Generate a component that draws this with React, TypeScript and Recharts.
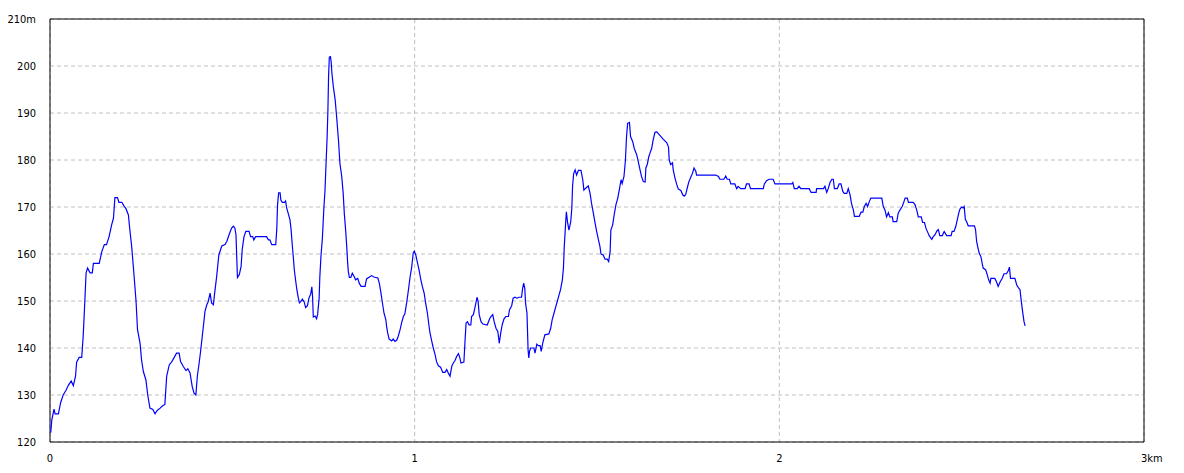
import { CartesianGrid, Line, LineChart, ReferenceArea, XAxis, YAxis } from 'recharts'

// distance along the route (km) and elevation (m)
const distKm = [
    0.002, 0.005, 0.011, 0.014, 0.023, 0.029, 0.036, 0.044, 0.05, 0.058, 0.064, 0.07, 0.073, 0.08, 0.087, 0.091, 0.094, 0.099, 0.103, 0.11,
    0.116, 0.119, 0.135, 0.142, 0.149, 0.155, 0.162, 0.169, 0.174, 0.178, 0.185, 0.189, 0.197, 0.203, 0.208, 0.215, 0.219, 0.224, 0.23, 0.236,
    0.24, 0.247, 0.251, 0.256, 0.263, 0.268, 0.274, 0.282, 0.288, 0.294, 0.302, 0.309, 0.315, 0.32, 0.327, 0.334, 0.34, 0.347, 0.354, 0.358,
    0.366, 0.373, 0.378, 0.384, 0.39, 0.395, 0.4, 0.404, 0.409, 0.413, 0.42, 0.425, 0.43, 0.434, 0.439, 0.443, 0.448, 0.452, 0.457, 0.463,
    0.471, 0.48, 0.485, 0.491, 0.498, 0.503, 0.507, 0.51, 0.514, 0.519, 0.524, 0.527, 0.532, 0.537, 0.546, 0.55, 0.556, 0.559, 0.564, 0.594,
    0.599, 0.603, 0.608, 0.619, 0.622, 0.624, 0.627, 0.631, 0.633, 0.637, 0.643, 0.646, 0.649, 0.653, 0.658, 0.661, 0.664, 0.667, 0.67, 0.674,
    0.677, 0.681, 0.684, 0.687, 0.692, 0.697, 0.701, 0.706, 0.71, 0.715, 0.718, 0.72, 0.722, 0.727, 0.731, 0.734, 0.738, 0.74, 0.743, 0.747,
    0.751, 0.754, 0.757, 0.76, 0.762, 0.764, 0.766, 0.769, 0.771, 0.773, 0.777, 0.782, 0.786, 0.791, 0.795, 0.8, 0.804, 0.807, 0.811, 0.814,
    0.816, 0.818, 0.821, 0.825, 0.829, 0.834, 0.838, 0.844, 0.848, 0.853, 0.864, 0.868, 0.876, 0.882, 0.888, 0.899, 0.903, 0.907, 0.911, 0.916,
    0.921, 0.923, 0.926, 0.93, 0.937, 0.941, 0.946, 0.951, 0.955, 0.96, 0.964, 0.969, 0.973, 0.978, 0.983, 0.987, 0.992, 0.996, 0.999, 1.003,
    1.007, 1.012, 1.017, 1.021, 1.026, 1.03, 1.035, 1.039, 1.042, 1.047, 1.051, 1.056, 1.06, 1.065, 1.071, 1.077, 1.083, 1.088, 1.092, 1.097,
    1.102, 1.106, 1.111, 1.115, 1.12, 1.124, 1.127, 1.135, 1.138, 1.141, 1.145, 1.149, 1.154, 1.156, 1.161, 1.165, 1.168, 1.171, 1.174, 1.177,
    1.182, 1.187, 1.199, 1.204, 1.208, 1.214, 1.218, 1.223, 1.228, 1.232, 1.236, 1.24, 1.245, 1.25, 1.257, 1.26, 1.266, 1.27, 1.275, 1.281,
    1.286, 1.293, 1.296, 1.299, 1.302, 1.304, 1.308, 1.311, 1.313, 1.315, 1.318, 1.327, 1.33, 1.335, 1.339, 1.344, 1.347, 1.351, 1.357, 1.368,
    1.373, 1.377, 1.382, 1.387, 1.391, 1.396, 1.4, 1.405, 1.408, 1.41, 1.414, 1.416, 1.419, 1.423, 1.428, 1.431, 1.433, 1.436, 1.44, 1.444,
    1.449, 1.456, 1.461, 1.464, 1.469, 1.476, 1.481, 1.485, 1.49, 1.494, 1.499, 1.504, 1.508, 1.511, 1.517, 1.522, 1.528, 1.532, 1.536, 1.538,
    1.543, 1.547, 1.552, 1.557, 1.561, 1.566, 1.569, 1.574, 1.578, 1.581, 1.584, 1.589, 1.592, 1.598, 1.602, 1.609, 1.613, 1.618, 1.622, 1.627,
    1.632, 1.634, 1.638, 1.642, 1.645, 1.65, 1.654, 1.659, 1.664, 1.673, 1.682, 1.691, 1.696, 1.698, 1.702, 1.707, 1.709, 1.714, 1.719, 1.723,
    1.73, 1.735, 1.739, 1.743, 1.748, 1.752, 1.758, 1.762, 1.766, 1.771, 1.773, 1.826, 1.833, 1.837, 1.848, 1.853, 1.857, 1.863, 1.867, 1.878,
    1.883, 1.887, 1.894, 1.906, 1.91, 1.917, 1.921, 1.956, 1.959, 1.965, 1.972, 1.983, 1.988, 2.034, 2.037, 2.041, 2.049, 2.054, 2.059, 2.082,
    2.087, 2.101, 2.102, 2.121, 2.125, 2.13, 2.134, 2.139, 2.144, 2.148, 2.151, 2.159, 2.164, 2.169, 2.174, 2.178, 2.185, 2.189, 2.194, 2.198,
    2.203, 2.206, 2.219, 2.224, 2.229, 2.233, 2.238, 2.242, 2.247, 2.251, 2.281, 2.285, 2.29, 2.294, 2.299, 2.303, 2.31, 2.312, 2.322, 2.326,
    2.331, 2.337, 2.342, 2.345, 2.351, 2.354, 2.367, 2.372, 2.377, 2.381, 2.389, 2.393, 2.398, 2.402, 2.407, 2.411, 2.418, 2.422, 2.427, 2.432,
    2.436, 2.44, 2.447, 2.452, 2.459, 2.471, 2.474, 2.479, 2.484, 2.488, 2.492, 2.495, 2.5, 2.504, 2.507, 2.51, 2.514, 2.518, 2.535, 2.538,
    2.541, 2.545, 2.548, 2.553, 2.556, 2.559, 2.566, 2.57, 2.574, 2.578, 2.58, 2.591, 2.596, 2.6, 2.605, 2.611, 2.616, 2.623, 2.628, 2.631,
    2.634, 2.646, 2.651, 2.655, 2.66, 2.663, 2.667, 2.671, 2.674,
]
const elevM = [
    122, 124.7, 127, 126, 126, 128.3, 130, 131, 132, 133, 132, 134, 137, 138, 138, 142.5, 147.4, 156, 157, 156,
    156, 158, 158, 160.5, 162, 162, 163.7, 166.2, 167.6, 172, 172, 171, 171, 170.2, 169.7, 168.3, 165.1, 161.6, 155.9, 149.9,
    143.9, 141, 137.5, 135, 133.2, 130, 127.2, 126.9, 126, 126.7, 127.2, 127.7, 128, 134, 136.4, 137.1, 137.9, 138.9, 138.9, 137.1,
    136, 135.2, 135.6, 134.7, 131.8, 130.4, 130, 134, 136.8, 139.3, 144.2, 147.8, 149.2, 149.9, 151.7, 149.6, 149.2, 152, 155.2, 159.8,
    161.7, 162, 162.7, 164.1, 165.5, 165.9, 165.5, 164.1, 155, 155.6, 157.3, 160.9, 163.7, 164.8, 164.8, 163.7, 163.7, 163, 163.7, 163.7,
    163, 163, 162, 162, 165.5, 170.5, 173, 173, 171.5, 171, 171, 171.3, 169.8, 168.7, 167.3, 165.3, 162.3, 159.5, 156.6, 154.1,
    152.4, 150.6, 149.6, 149.8, 150.4, 149.8, 148.6, 149, 150.6, 151.5, 153, 151, 146.6, 146.8, 146.2, 147.2, 150.6, 155.2, 159.5, 163.4,
    169.8, 173.3, 179.3, 185, 190.3, 198.1, 201.9, 202, 200.9, 198.5, 195.6, 192.8, 189.2, 184.3, 179.3, 176.5, 172.9, 168.7, 164.8, 161.2,
    158.4, 156.3, 155, 155, 155.9, 155.2, 154.5, 154.8, 153.8, 153.1, 153.1, 154.7, 155.1, 155.4, 155.1, 154.9, 153.8, 152, 149.9, 147.4,
    146, 144.6, 143.2, 141.9, 141.5, 141.9, 141.4, 141.7, 142.5, 143.9, 145.3, 146.7, 147.2, 149.6, 152.4, 154.9, 157.3, 160.2, 160.6, 159.8,
    158.4, 156.6, 154.5, 153.1, 151.7, 149.6, 147.4, 144.9, 143.2, 141.4, 140, 138.6, 137.1, 136.2, 135.9, 134.8, 134.8, 135.4, 134.7, 134,
    136.2, 136.8, 137.4, 138.2, 138.8, 137.9, 136.8, 137, 141.4, 145.3, 145.6, 144.9, 144.9, 146.7, 147.1, 148.5, 149.6, 150.8, 149.9, 147.1,
    145.6, 145.1, 144.9, 145.9, 146.6, 147.1, 145.6, 144.2, 143.5, 141, 143.2, 144.9, 146.2, 146.7, 146.7, 148.1, 149, 150.6, 150.8, 150.6,
    150.8, 150.8, 152.7, 153.8, 152.7, 149.6, 147.4, 139.6, 137.9, 139.3, 140, 140, 138.9, 140.8, 140.5, 140.5, 139.3, 141, 142.8, 143,
    144.2, 146, 147.4, 148.8, 149.9, 151.3, 152.4, 154.5, 157, 161.2, 166.6, 169, 166.9, 165.1, 166.9, 169.8, 174.4, 177.1, 177.9, 176.8,
    177.8, 177.8, 175.8, 173.6, 174, 174.5, 172.9, 170.8, 168.7, 166.9, 164.8, 163, 161.6, 160, 159.8, 158.9, 158.9, 158.4, 160.5, 165.1,
    166.2, 168.3, 170.5, 171.9, 173.6, 175.8, 175, 176.5, 180, 185, 187.8, 188, 185, 183.9, 182.5, 181.1, 179.7, 177.9, 176.5, 175.4,
    175.3, 178.3, 179.1, 180.7, 181.4, 182.5, 184.3, 185.9, 186, 185.2, 184.4, 183.7, 182.8, 180, 179, 179.4, 177.9, 176.1, 174.7, 173.8,
    173.5, 172.6, 172.3, 172.6, 174.2, 175.4, 176.5, 177.2, 178.3, 177.6, 176.8, 176.8, 176.5, 175.9, 175.9, 176.6, 175.9, 175.9, 174.9, 174.9,
    173.9, 174.4, 173.9, 173.9, 174.9, 174.9, 173.9, 173.9, 174.9, 175.6, 175.9, 175.9, 174.9, 174.9, 175.2, 173.9, 173.9, 174.4, 173.9, 173.9,
    173.1, 173.1, 173.9, 173.9, 174.4, 173.1, 173.9, 175.2, 175.9, 175.9, 173.9, 173.9, 174.9, 174.9, 173.3, 172.9, 172.9, 173.9, 172.6, 170.7,
    169.4, 168, 168, 168.9, 168.9, 170.1, 170.8, 170.1, 171.2, 171.9, 171.9, 170.1, 169.3, 167.9, 168.8, 167.9, 167.9, 166.9, 166.9, 168.7,
    169.4, 170.1, 171.2, 171.9, 171.9, 171, 171, 170.5, 169.3, 167.9, 167.9, 166.7, 166.7, 165.5, 164.6, 163.9, 163.1, 163.7, 164.1, 164.9,
    165.2, 163.9, 163.9, 164.8, 163.9, 163.9, 164.8, 164.8, 165.9, 167.3, 168.7, 169.5, 170, 169.8, 170.1, 167.4, 166.8, 166, 166, 165.2,
    162.7, 161.2, 160.2, 159.4, 158.1, 157, 156.6, 155.6, 154.5, 153.8, 154.8, 154.8, 154, 153.1, 154, 154.8, 155.8, 155.8, 156.5, 157.2,
    154.8, 154.8, 153.4, 152.9, 152.4, 150.3, 147.8, 145.6, 144.7,
]

const xTicks = [0, 1, 2, 3]
const yTicks = [120, 130, 140, 150, 160, 170, 180, 190, 200, 210]

const profile = distKm.map((d, i) => ({ d, e: elevM[i] }))

const labelFont = "'Liberation Sans Narrow', 'DejaVu Sans Condensed', 'Liberation Sans', sans-serif"

const XTick = ({ x, y, payload }: any) => {
    const last = payload.value === 3
    return (
        <text x={last ? x - 3 : x} y={y + 12} textAnchor={last ? 'start' : 'middle'} fontSize={11} fontFamily={labelFont} fill="#000">
            {last ? '3km' : payload.value}
        </text>
    )
}

const YTick = ({ x, y, payload }: any) => (
    <text x={x - 6} y={y + 4} textAnchor="end" fontSize={11} fontFamily={labelFont} fill="#000">
        {payload.value === 210 ? '210m' : payload.value}
    </text>
)

const App = () => {
    return (
        <div style={{ position: 'absolute', left: 0, top: 0, background: '#fff' }}>
            <LineChart width={1184} height={473} data={profile} margin={{ top: 19, right: 40, left: 0, bottom: 0 }}>
                <CartesianGrid stroke="#c0c0c0" strokeDasharray="4 3" />
                <XAxis
                    dataKey="d"
                    type="number"
                    domain={[0, 3]}
                    ticks={xTicks}
                    height={31}
                    axisLine={false}
                    tickLine={false}
                    tick={<XTick />}
                    interval={0}
                />
                <YAxis
                    type="number"
                    domain={[120, 210]}
                    ticks={yTicks}
                    width={50}
                    axisLine={false}
                    tickLine={false}
                    tick={<YTick />}
                    interval={0}
                />
                <ReferenceArea x1={0} x2={3} y1={120} y2={210} fill="none" stroke="#000" strokeWidth={1} fillOpacity={0} strokeOpacity={1} />
                <Line type="linear" dataKey="e" stroke="#0000ff" strokeWidth={1.2} dot={false} isAnimationActive={false} />
            </LineChart>
        </div>
    )
}

export default App
